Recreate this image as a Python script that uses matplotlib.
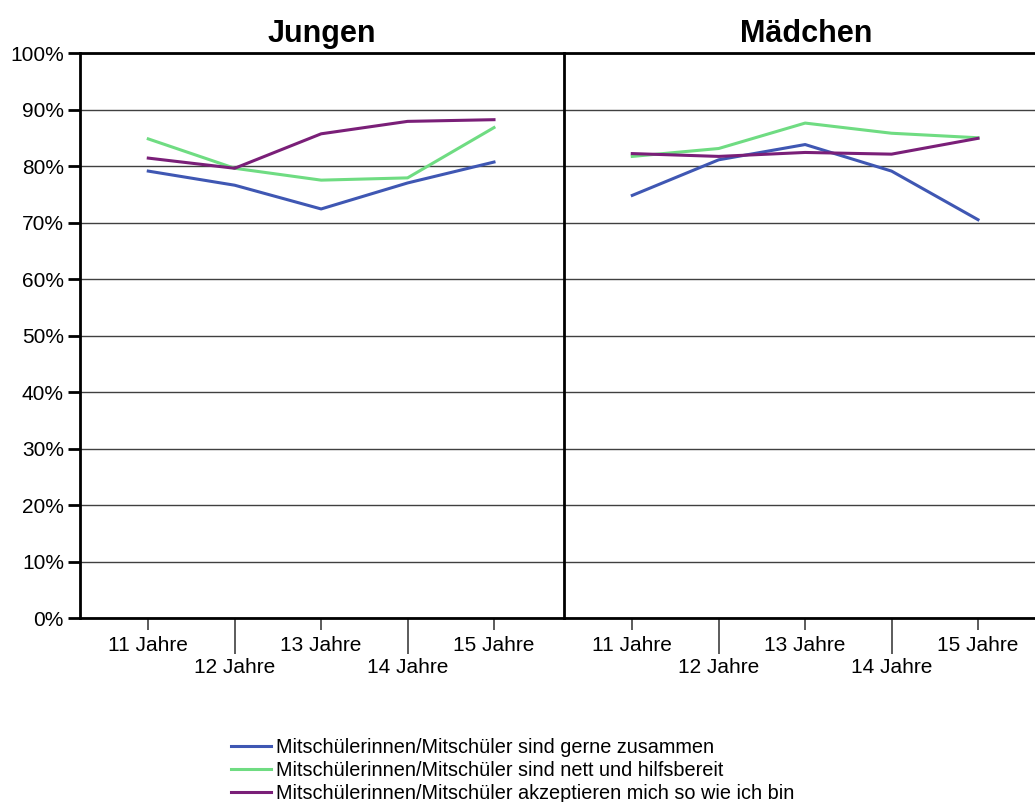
import numpy as np
import matplotlib
matplotlib.use("Agg")
import matplotlib.pyplot as plt
from matplotlib.ticker import FixedLocator, FixedFormatter

plt.rcParams['font.family'] = ['Liberation Sans', 'DejaVu Sans']

ages = ['11 Jahre', '12 Jahre', '13 Jahre', '14 Jahre', '15 Jahre']
panels = ['Jungen', 'Mädchen']
series = ['Mitschülerinnen/Mitschüler sind gerne zusammen',
          'Mitschülerinnen/Mitschüler sind nett und hilfsbereit',
          'Mitschülerinnen/Mitschüler akzeptieren mich so wie ich bin']
colors = ['#3f57b3', '#6fdc82', '#7a1f78']

jungen_zusammen = [79.1, 76.6, 72.4, 77.0, 80.7]
jungen_nett = [84.8, 79.6, 77.5, 77.9, 86.8]
jungen_akzept = [81.4, 79.6, 85.7, 87.9, 88.2]

maedchen_zusammen = [74.8, 81.1, 83.8, 79.1, 70.5]
maedchen_nett = [81.7, 83.1, 87.6, 85.8, 85.0]
maedchen_akzept = [82.2, 81.7, 82.4, 82.1, 84.9]

data = {'Jungen': [jungen_zusammen, jungen_nett, jungen_akzept],
        'Mädchen': [maedchen_zusammen, maedchen_nett, maedchen_akzept]}

fig = plt.figure(figsize=(10.35, 8.02), dpi=100)
ax1 = fig.add_axes([80 / 1035, 0.2294, 484 / 1035, 0.7045])
ax2 = fig.add_axes([564 / 1035, 0.2294, 484 / 1035, 0.7045])

x = np.arange(len(ages))
for ax, name in zip([ax1, ax2], panels):
    for i, vals in enumerate(data[name]):
        ax.plot(x, vals, color=colors[i], lw=2.2, label=series[i])
    ax.set_xlim(-0.79, 4.81)
    ax.set_ylim(0, 100)
    ax.set_yticks(np.arange(0, 101, 10))
    ax.grid(axis='y', color='#404040', lw=1)
    ax.set_axisbelow(True)
    for s in ax.spines.values():
        s.set_linewidth(2)
        s.set_color('black')
    ax.spines['right'].set_visible(False)
    ax.set_title(name, fontsize=22, fontweight='bold', pad=8)

    # odd ages: short ticks, even ages: long ticks with labels lower down
    ax.xaxis.set_major_locator(FixedLocator([0, 2, 4]))
    ax.xaxis.set_major_formatter(FixedFormatter([ages[0], ages[2], ages[4]]))
    ax.xaxis.set_minor_locator(FixedLocator([1, 3]))
    ax.xaxis.set_minor_formatter(FixedFormatter([ages[1], ages[3]]))
    ax.tick_params(axis='x', which='major', length=8.6, width=1.2, color='#404040',
                   labelsize=15, pad=4)
    ax.tick_params(axis='x', which='minor', length=26, width=1.2, color='#404040',
                   labelsize=15, pad=3)

ax1.yaxis.set_major_formatter(plt.FuncFormatter(lambda v, p: '%d%%' % v))
ax1.tick_params(axis='y', length=8.6, width=2, labelsize=15, pad=3)
ax2.tick_params(axis='y', left=False, labelleft=False)

handles, labels = ax1.get_legend_handles_labels()
fig.legend(handles, labels, loc='upper left', bbox_to_anchor=(217 / 1035, 1 - 724 / 802),
           frameon=False, handlelength=2.0, handletextpad=0.25,
           labelspacing=0.2, borderpad=0.2,
           prop={'family': ['Liberation Sans Narrow', 'Liberation Sans'], 'size': 14.3})

fig.savefig('out.png', dpi=100)
